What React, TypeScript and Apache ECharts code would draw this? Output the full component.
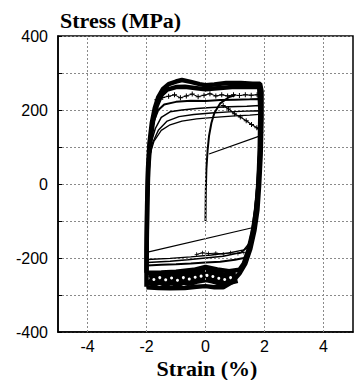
import React, { useEffect, useRef } from "react";
import * as echarts from "echarts";

// Axis ticks
const xTicks = [-4, -2, 0, 2, 4];
const yLabelTicks = [-400, -200, 0, 200, 400];

// Hysteresis loops: [strain %, stress MPa]
const loopOuter = [
  [-2.0, -278], [-2.0, -180], [-1.98, -60], [-1.95, 40], [-1.9, 110], [-1.82, 165], [-1.72, 205],
  [-1.6, 235], [-1.45, 256], [-1.25, 270], [-1.0, 277], [-0.8, 281], [-0.5, 276], [-0.2, 270],
  [0.0, 267], [0.3, 269], [0.7, 273], [1.2, 273], [1.6, 271], [1.85, 271], [1.9, 250], [1.9, 180],
  [1.87, 80], [1.82, 0], [1.76, -70], [1.66, -125], [1.52, -175], [1.35, -215], [1.15, -242],
  [0.9, -265], [0.6, -279], [0.3, -279], [0.0, -276], [-0.3, -278], [-0.7, -281], [-1.2, -282],
  [-1.6, -281], [-2.0, -279],
];
const loop2 = [
  [-2.0, -240], [-1.99, -150], [-1.97, -40], [-1.94, 40], [-1.88, 110], [-1.78, 170], [-1.65, 212],
  [-1.5, 240], [-1.3, 255], [-1.0, 262], [-0.7, 263], [-0.3, 259], [0.0, 256], [0.4, 259],
  [0.9, 262], [1.4, 262], [1.82, 262], [1.86, 200], [1.84, 100], [1.8, 10], [1.72, -70],
  [1.6, -130], [1.45, -180], [1.3, -215], [1.15, -232], [0.8, -236], [0.4, -231], [0.0, -224],
  [-0.4, -232], [-1.0, -237], [-1.5, -239], [-2.0, -240],
];
const loop3 = [
  [-1.98, -220], [-1.97, -100], [-1.95, 0], [-1.92, 70], [-1.85, 130], [-1.75, 170], [-1.6, 200],
  [-1.4, 215], [-1.0, 222], [-0.5, 225], [0.0, 224], [0.5, 227], [1.0, 228], [1.5, 229],
  [1.85, 230], [1.85, 150], [1.8, 50], [1.74, -40], [1.65, -100], [1.55, -150], [1.45, -185],
  [1.3, -200], [1.0, -205], [0.5, -210], [0.0, -212], [-0.5, -215], [-1.0, -217], [-1.5, -218],
  [-1.98, -220],
];
const loop4 = [
  [-1.97, -212], [-1.95, -60], [-1.92, 60], [-1.85, 110], [-1.7, 150], [-1.5, 180], [-1.2, 195],
  [-0.8, 200], [-0.3, 204], [0.2, 207], [0.8, 209], [1.4, 210], [1.84, 212], [1.82, 100],
  [1.75, 0], [1.65, -90], [1.55, -140], [1.45, -170], [1.2, -185], [0.6, -195], [0.0, -200],
  [-0.6, -205], [-1.2, -209], [-1.97, -212],
];
const loop5 = [
  [-1.97, -204], [-1.94, -40], [-1.9, 70], [-1.8, 110], [-1.6, 145], [-1.3, 170], [-0.9, 182],
  [-0.4, 188], [0.2, 192], [0.8, 195], [1.4, 197], [1.83, 198], [1.8, 80], [1.72, -30],
  [1.6, -110], [1.48, -160], [1.3, -178], [0.8, -186], [0.2, -192], [-0.5, -197], [-1.2, -201],
  [-1.97, -204],
];
const loop6 = [
  [-1.96, -196], [-1.93, -20], [-1.88, 80], [-1.75, 115], [-1.5, 145], [-1.2, 160], [-0.8, 170],
  [-0.3, 176], [0.3, 180], [1.0, 184], [1.5, 186], [1.82, 188],
];
const upperLine = [[0.12, 81], [1.85, 130]];
const lowerLine = [[-1.96, -184], [1.55, -119]];
const initialCurve = [
  [0.0, -100], [0.01, -20], [0.03, 40], [0.07, 90], [0.12, 130], [0.2, 165], [0.3, 192],
  [0.5, 218], [0.8, 235], [1.0, 240],
];
const descendingMarks = [
  [0.6, 212], [0.78, 203], [0.98, 190], [1.18, 181], [1.38, 171], [1.56, 161], [1.74, 152], [1.88, 140],
];
const topMarks = [
  [-1.65, 228], [-1.45, 234], [-1.25, 237], [-1.05, 241], [-0.85, 233], [-0.65, 238], [-0.45, 243],
  [-0.25, 236], [-0.05, 240], [0.15, 244], [0.35, 238], [0.55, 241], [0.75, 238], [0.95, 241],
  [1.15, 239], [1.35, 241], [1.55, 240], [1.75, 241],
];
const bottomBand = [
  [-1.95, -255], [-1.75, -258], [-1.55, -253], [-1.35, -259], [-1.15, -254], [-0.95, -260],
  [-0.75, -253], [-0.55, -257], [-0.35, -252], [-0.15, -249], [0.05, -247], [0.25, -250],
  [0.45, -255], [0.65, -258], [0.85, -253], [1.05, -249],
];
const bottomMarks = [
  [-0.3, -190], [-0.1, -186], [0.1, -188], [0.35, -187], [0.6, -189], [0.85, -186], [1.1, -188], [1.3, -185],
];

const plusSymbol = "path://M4,0h2v4h4v2h-4v4h-2v-4h-4v-2h4z";

export default function App() {
  const ref = useRef<HTMLDivElement>(null);
  useEffect(() => {
    if (!ref.current) return;
    const chart = echarts.init(ref.current, undefined, { renderer: "svg" });
    const tickFont = {
      fontFamily: "'Liberation Sans', Arial, sans-serif",
      fontSize: 16,
      color: "#000",
    };
    const titleFont = "bold 22px 'Liberation Serif', 'Times New Roman', 'DejaVu Serif', serif";
    const loop = (data: number[][], width: number, z = 3) => ({
      type: "line",
      data,
      showSymbol: false,
      symbol: "none",
      lineStyle: { color: "#000", width },
      z,
    });
    chart.setOption({
      animation: false,
      backgroundColor: "#fff",
      grid: {
        left: 58,
        right: 2,
        top: 36,
        bottom: 48,
        show: true,
        borderColor: "#000",
        borderWidth: 1.5,
        backgroundColor: "transparent",
      },
      xAxis: {
        type: "value",
        min: -5,
        max: 5,
        interval: 1,
        axisLine: { onZero: false, lineStyle: { color: "#000", width: 1.5 } },
        axisTick: { show: false },
        splitLine: { show: false },
        axisLabel: {
          ...tickFont,
          margin: 6,
          formatter: (v: number) => (xTicks.includes(v) ? String(v) : ""),
        },
      },
      yAxis: {
        type: "value",
        min: -400,
        max: 400,
        interval: 100,
        axisLine: { onZero: false, lineStyle: { color: "#000", width: 1.5 } },
        axisTick: { show: true, inside: true, length: 4, lineStyle: { color: "#000" } },
        splitLine: { show: true, lineStyle: { color: "#8a8a8a", type: [2, 2], width: 1 } },
        axisLabel: {
          ...tickFont,
          margin: 10,
          padding: [0, 0, 6, 0],
          formatter: (v: number) => (yLabelTicks.includes(v) ? String(v) : ""),
        },
      },
      graphic: [
        {
          type: "text",
          x: 60,
          y: 20,
          style: { text: "Stress (MPa)", font: titleFont, fill: "#000", align: "left", verticalAlign: "middle" },
        },
        {
          type: "text",
          x: 207,
          y: 368,
          style: { text: "Strain (%)", font: titleFont, fill: "#000", align: "center", verticalAlign: "middle" },
        },
      ],
      series: [
        {
          type: "line",
          data: [],
          z: 1,
          markLine: {
            silent: true,
            symbol: "none",
            label: { show: false },
            lineStyle: { color: "#8a8a8a", type: [2, 2], width: 1 },
            data: xTicks.map((v) => ({ xAxis: v })),
          },
        },
        loop(lowerLine, 1.2),
        loop(upperLine, 1.2),
        loop(loop6, 1.3),
        loop(loop5, 1.4),
        loop(loop4, 1.5),
        loop(loop3, 2),
        loop(initialCurve, 2),
        {
          type: "line",
          data: bottomBand,
          symbol: "circle",
          symbolSize: 3,
          showSymbol: true,
          itemStyle: { color: "#fff", borderWidth: 0 },
          lineStyle: { color: "#000", width: 14 },
          z: 4,
        },
        loop(loop2, 4.5, 5),
        loop(loopOuter, 4.5, 5),
        {
          type: "line",
          data: topMarks,
          symbol: plusSymbol,
          symbolSize: 5,
          showSymbol: true,
          itemStyle: { color: "#000" },
          lineStyle: { color: "#000", width: 1 },
          z: 6,
        },
        {
          type: "line",
          data: descendingMarks,
          symbol: plusSymbol,
          symbolSize: 5,
          showSymbol: true,
          itemStyle: { color: "#000" },
          lineStyle: { color: "#000", width: 1.2 },
          z: 6,
        },
        {
          type: "line",
          data: bottomMarks,
          symbol: plusSymbol,
          symbolSize: 4,
          showSymbol: true,
          itemStyle: { color: "#000" },
          lineStyle: { color: "#000", width: 1 },
          z: 6,
        },
      ],
    });
    return () => chart.dispose();
  }, []);
  return (
    <div
      ref={ref}
      style={{ position: "fixed", left: 0, top: 0, width: 356, height: 380 }}
    />
  );
}
